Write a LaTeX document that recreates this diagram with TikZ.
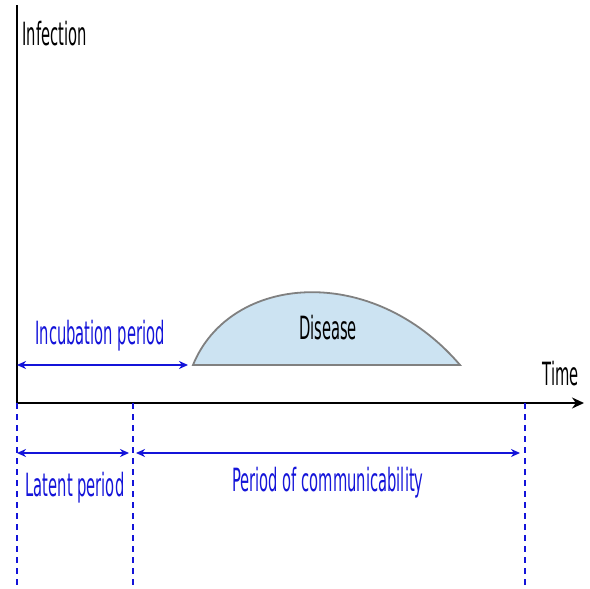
\documentclass[tikz,border=0pt]{standalone}
\usepackage{fontspec}
\setmainfont{DejaVu Sans}[FakeStretch=0.46]
\usetikzlibrary{arrows.meta,positioning}
\definecolor{periodblue}{rgb}{0.08,0.08,0.85}
\definecolor{diseasefill}{rgb}{0.8,0.89,0.95}
\tikzstyle{lbl} = [font=\fontsize{16}{19}\selectfont, inner sep=0pt]
\tikzstyle{bluelbl} = [lbl, text=periodblue]
\tikzstyle{period} = [periodblue, line width=1pt, {Stealth[length=4.5pt,width=4pt]}-{Stealth[length=4.5pt,width=4pt]}]
\tikzstyle{tickline} = [periodblue, line width=0.6pt, dash pattern=on 3pt off 2.5pt]

\begin{document}
\begin{tikzpicture}[x=0.5pt,y=-0.5pt]
\useasboundingbox (0,0) rectangle (590,589);
%axes
\coordinate (O) at (17,403);
\coordinate (ytop) at (17,5);
\coordinate (xend) at (584,403);
\draw[line width=0.9pt] (O)--(ytop);
\draw[line width=1.3pt, -{Stealth[length=6pt,width=5.5pt]}] (O)--(xend);
\draw (22,34) node (infection) [lbl, anchor=west] {Infection};
\draw (561,374) node (time) [lbl] {Time};
%disease
\draw[gray, line width=0.9pt, fill=diseasefill] (193,365) .. controls (230,274) and (372,262) .. (460,365) -- cycle;
\draw (328,328) node (disease) [lbl] {Disease};
%incubation
\coordinate (inc0) at (17,365);
\coordinate (inc1) at (188,365);
\draw[period] (inc0)--(inc1);
\draw (100,336) node (incubation) [bluelbl] {Incubation period};
%dashed lines
\coordinate (d0) at (17,403);
\coordinate (d1) at (133,403);
\coordinate (d2) at (525,403);
\coordinate (e0) at (17,589);
\coordinate (e1) at (133,589);
\coordinate (e2) at (525,589);
\draw[tickline] (d0)--(e0);
\draw[tickline] (d1)--(e1);
\draw[tickline] (d2)--(e2);
%latent and communicability
\coordinate (lat0) at (17,453);
\coordinate (lat1) at (129,453);
\coordinate (com0) at (136,453);
\coordinate (com1) at (520,453);
\draw[period] (lat0)--(lat1);
\draw[period] (com0)--(com1);
\draw (75,488) node (latent) [bluelbl] {Latent period};
\draw (328,483) node (communic) [bluelbl] {Period of communicability};
\end{tikzpicture}
\end{document}
